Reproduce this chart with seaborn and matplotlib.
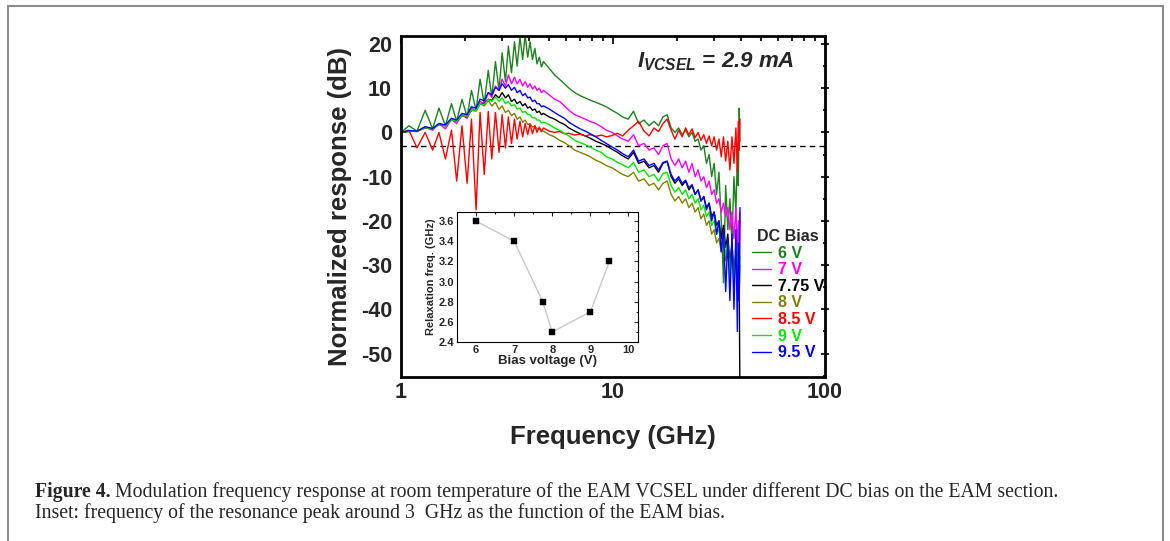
import numpy as np
import pandas as pd
import matplotlib
matplotlib.use("Agg")
import matplotlib.pyplot as plt
import matplotlib.ticker as mticker
from matplotlib.patches import Rectangle
import seaborn as sns

# frequency grid (GHz): ripple region, mid band, noisy top end
freq_ghz = [1.00, 1.09, 1.19, 1.30, 1.41, 1.51, 1.62, 1.73, 1.83, 1.94, 2.05, 2.15,
            2.26, 2.36, 2.47, 2.58, 2.68, 2.79, 2.90, 3.00, 3.11, 3.21, 3.32, 3.43,
            3.53, 3.64, 3.75, 3.85, 3.96, 4.06, 4.17, 4.28, 4.38, 4.49, 4.60, 4.70,
            5.0, 5.3, 5.6, 5.9, 6.2, 6.6, 7.0, 7.4, 7.8, 8.3, 8.8, 9.3, 9.9, 10.5,
            11.1, 11.8, 12.5, 13.2, 14.0, 14.8,
            15.6, 16.4, 17.2, 18.0, 18.8, 19.6, 20.4, 21.2, 22.0, 22.8, 23.6, 24.4,
            25.2, 26.0, 26.8, 27.6, 28.4, 29.2, 30.0, 30.8, 31.6, 32.4, 33.2, 34.0,
            34.8, 35.6, 36.4, 37.2, 38.0, 38.6, 39.0, 39.4, 39.7]

resp_6v = [0, 1.5, 0.3, 5, 0.8, 5.5, 1.5, 6.5, 2.5, 7.5, 3.5, 9.5, 5, 12, 6.5, 14, 8, 16,
           9.5, 18, 11.5, 19.5, 13.5, 20.5, 15, 21.5, 16.5, 22, 17, 20.5, 16.5, 19, 15.5, 17, 14.8, 16,
           14.5, 13.0, 12.0, 11.0, 10.0, 9.0, 8.3, 7.8, 7.3, 6.8, 6.3, 5.8, 5.0, 4.3, 3.5, 3.0, 4.8, 2.0, 2.8, 1.5,
           2.5, 1.5, 3.5, 4.0, 1.0, 0.0, 1.0, -0.5, 0.5, -1.0, 0.0, -2.0, -1.5, -4.0, -3.0, -7.0, -5.0,
           -10.0, -7.0, -14.0, -9.0, -20.0, -34.0, -12.0, -22.0, -15.0, -25.0, -10.0, -18.0, -5.0, -12.0, 5.5, -2.0]
resp_7v = [0, 0.3, 0.2, 1.2, 0.5, 2.0, 0.8, 3.0, 2.0, 4.0, 3.2, 5.5, 5.0, 7.0, 6.5, 9.0, 8.0, 10.5,
           9.5, 12.0, 10.5, 13.0, 11.0, 12.5, 11.0, 12.0, 10.5, 11.5, 10.2, 11.0, 9.8, 10.5, 9.5, 10.0, 9.0, 9.5,
           8.5, 7.5, 7.0, 6.0, 5.0, 4.0, 3.5, 3.0, 2.5, 2.0, 1.3, 0.5, 0.0, -0.8, -1.5, -2.0, -0.5, -3.0, -2.5, -4.0,
           -3.5, -5.0, -3.0, -2.5, -6.0, -7.5, -6.0, -8.0, -6.5, -9.0, -7.0, -10.0, -8.5, -11.0, -10.0, -12.5,
           -11.0, -14.0, -13.0, -16.0, -15.0, -18.0, -16.0, -19.0, -17.0, -22.0, -18.0, -24.0, -17.0, -28.0,
           -20.0, -36.0, -18.0]
resp_775v = [0, 0.2, 0.3, 1.0, 0.8, 1.8, 1.5, 2.8, 2.5, 3.8, 3.5, 5.0, 5.0, 6.5, 6.5, 7.5, 7.2, 8.5,
             7.8, 9.0, 7.8, 8.5, 7.0, 7.5, 6.5, 7.0, 6.0, 6.5, 5.5, 5.8, 5.0, 5.3, 4.5, 4.8, 4.0, 4.3,
             3.5, 3.0, 2.3, 1.8, 1.0, 0.3, -0.3, -0.8, -1.3, -2.0, -2.5, -3.0, -3.8, -4.5, -5.3, -6.0, -4.5, -7.0, -6.5, -8.0,
             -7.5, -9.0, -7.0, -6.5, -10.0, -11.5, -10.5, -12.0, -11.0, -13.0, -12.0, -14.0, -13.0, -15.5, -14.5,
             -17.0, -16.0, -19.0, -18.0, -21.0, -20.0, -24.0, -21.0, -26.0, -23.0, -30.0, -25.0, -32.0, -27.0,
             -33.0, -28.0, -35.0, -60.0]
resp_8v = [0, 0.3, 0.2, 1.0, 0.8, 1.8, 1.5, 2.8, 2.5, 3.8, 3.5, 5.0, 4.8, 6.5, 6.0, 7.2, 6.0, 6.8,
           5.2, 6.0, 4.5, 5.0, 3.8, 4.3, 3.0, 3.5, 2.3, 2.8, 1.8, 2.0, 1.2, 1.5, 0.8, 0.8, 0.2, 0.3,
           -0.5, -1.0, -1.8, -2.3, -3.0, -4.0, -4.5, -5.0, -5.5, -6.3, -6.8, -7.5, -8.0, -8.8, -9.5, -10.0, -9.0, -11.0, -10.5, -12.0,
           -11.5, -13.0, -11.5, -11.0, -14.0, -15.5, -14.5, -16.0, -15.0, -17.0, -16.0, -18.0, -17.0, -19.5, -18.5,
           -21.0, -20.0, -23.0, -22.0, -25.0, -24.0, -27.0, -25.0, -29.0, -26.0, -31.0, -27.0, -33.0, -28.0,
           -34.0, -29.0, -35.0, -30.0]
resp_85v = [0, 0.5, -3.5, 0, -4, 0, -6, 0.5, -11, 1.5, -11.5, 3, -17.5, 4.5, -9.5, 4.7, -6, 4.5,
            -4.5, 4, -3.5, 3.5, -2.5, 3, -1.5, 2.5, -1, 2, -0.5, 1.8, -0.3, 1.5, 0, 1.2, 0.2, 1.0,
            0.3, 0.0, 0.2, -0.3, -0.2, -0.6, -0.4, -0.8, -0.5, -0.9, -0.6, -1.0, -0.7, -0.2, -0.8, 0.5, 1.5, 2.5, 0.3, -0.8,
            1.0, 0.2, 2.0, 3.0, 0.5, -1.5, 0.5, -1.0, 1.0, -0.5, 0.8, -1.2, 0.0, -1.8, -0.5, -2.5, -0.8,
            -3.0, -1.0, -4.0, -1.5, -5.5, -1.0, -6.5, -2.0, -8.5, -1.0, -7.0, 1.0, -9.0, 2.5, -4.0, 3.0]
resp_9v = [0, 0.3, 0.3, 1.2, 0.8, 2.0, 1.5, 3.0, 2.5, 4.0, 3.8, 5.2, 5.0, 6.5, 6.3, 7.5, 7.0, 8.0,
           7.0, 7.8, 6.5, 7.0, 6.0, 6.3, 5.3, 5.5, 4.5, 4.8, 4.0, 4.0, 3.3, 3.3, 2.8, 2.8, 2.2, 2.3,
           1.8, 1.0, 0.5, -0.2, -0.8, -1.8, -2.3, -2.8, -3.3, -4.0, -4.5, -5.5, -6.0, -6.8, -7.3, -8.0, -6.8, -9.0, -8.5, -10.0,
           -9.5, -11.0, -9.3, -9.0, -12.0, -13.5, -12.5, -14.0, -13.0, -15.0, -14.0, -16.0, -15.0, -17.5, -16.5,
           -19.0, -18.0, -21.0, -20.0, -23.0, -22.0, -26.0, -23.0, -28.0, -25.0, -33.0, -26.0, -35.0, -27.0,
           -30.0, -26.0, -36.0, -28.0]
resp_95v = [0, 0.4, 0.3, 1.3, 0.9, 2.0, 1.7, 3.2, 2.8, 4.3, 4.0, 5.8, 5.5, 7.5, 7.2, 9.0, 8.5, 10.2,
            9.5, 11.0, 10.0, 10.8, 9.5, 10.2, 9.0, 9.5, 8.3, 8.8, 7.8, 8.0, 7.0, 7.3, 6.5, 6.5, 5.8, 6.0,
            5.3, 4.5, 3.8, 3.2, 2.3, 1.5, 0.8, 0.3, -0.3, -1.0, -1.8, -2.5, -3.3, -4.0, -4.8, -5.5, -4.0, -6.5, -6.0, -7.5,
            -7.0, -8.5, -6.8, -6.5, -9.5, -11.0, -10.0, -11.5, -10.8, -12.5, -11.8, -14.0, -13.0, -15.5, -14.5,
            -17.5, -16.0, -20.0, -18.0, -23.0, -20.0, -27.0, -22.0, -36.0, -24.0, -38.0, -23.0, -40.0, -22.0,
            -45.0, -25.0, -38.0, -17.0]

bias_labels = ["6 V", "7 V", "7.75 V", "8 V", "8.5 V", "9 V", "9.5 V"]
bias_colors = ["#1f7f1f", "#ff00ff", "#000000", "#808000", "#ff0000", "#00e800", "#0000ff"]
all_resp = [resp_6v, resp_7v, resp_775v, resp_8v, resp_85v, resp_9v, resp_95v]

# inset: relaxation frequency vs EAM bias
inset_bias = [6, 7, 7.75, 8, 9, 9.5]
inset_relax = [3.6, 3.4, 2.8, 2.5, 2.7, 3.2]

df = pd.concat([pd.DataFrame({"freq": freq_ghz, "resp": r, "bias": lab})
                for r, lab in zip(all_resp, bias_labels)], ignore_index=True)

sns.set_style("white")
plt.rcParams["font.family"] = ["Liberation Sans", "DejaVu Sans"]
plt.rcParams["axes.unicode_minus"] = False
plt.rcParams["mathtext.fontset"] = "custom"
plt.rcParams["mathtext.it"] = "Liberation Sans:italic:bold"
plt.rcParams["mathtext.rm"] = "Liberation Sans:bold"

W, H = 1170, 541
fig = plt.figure(figsize=(W / 100, H / 100), dpi=100)
ax = fig.add_axes([401 / W, 1 - 377 / H, 424 / W, 341 / H])

sns.lineplot(data=df, x="freq", y="resp", hue="bias", hue_order=bias_labels,
             palette=dict(zip(bias_labels, bias_colors)), estimator=None, sort=False,
             lw=1.0, ax=ax)
ax.axhline(-3, ls=(0, (4, 3)), color="black", lw=1.0, zorder=1)

ax.set_xscale("log")
ax.set_xlim(1, 100)
ax.set_ylim(-55.3, 21.8)
ax.xaxis.set_major_locator(mticker.FixedLocator([1, 10, 100]))
ax.xaxis.set_major_formatter(mticker.FixedFormatter(["1", "10", "100"]))
ax.xaxis.set_minor_locator(mticker.LogLocator(base=10, subs=np.arange(2, 10)))
ax.xaxis.set_minor_formatter(mticker.NullFormatter())
ax.yaxis.set_major_locator(mticker.MultipleLocator(10))
ax.yaxis.set_minor_locator(mticker.MultipleLocator(5))
ax.tick_params(which="both", direction="in", top=True, right=True, width=1.5)
ax.tick_params(axis="y", which="both", direction="inout")
ax.tick_params(which="major", length=6, labelsize=15.5)
ax.tick_params(which="minor", length=3.5)
for lab in ax.get_xticklabels() + ax.get_yticklabels():
    lab.set_fontweight("bold")
for sp in ax.spines.values():
    sp.set_linewidth(2)
    sp.set_color("black")
ax.set_xlabel("Frequency (GHz)", fontsize=18.5, fontweight="bold", labelpad=16)
ax.set_ylabel("Normalized response (dB)", fontsize=18.5, fontweight="bold", labelpad=6)

handles, labels = ax.get_legend_handles_labels()
leg = ax.legend(handles, labels, title="DC Bias", frameon=False, loc="upper left",
                bbox_to_anchor=(744 / W, 1 - 221 / H), bbox_transform=fig.transFigure,
                handlelength=1.2, handletextpad=0.4, labelspacing=0.1, borderpad=0,
                prop={"weight": "bold", "size": 11.5})
leg.get_title().set_fontweight("bold")
leg.get_title().set_fontsize(11.5)
for txt, col in zip(leg.get_texts(), bias_colors):
    txt.set_color(col)
for h in leg.legend_handles:
    h.set_linewidth(1.0)

fig.text(637 / W, 1 - 62 / H, r"$I_{VCSEL}$ = 2.9 mA", fontsize=16, fontweight="bold",
         fontstyle="italic", ha="left", va="center")

# inset
ins = fig.add_axes([457 / W, 1 - 342 / H, 181 / W, 130 / H])
sns.lineplot(x=inset_bias, y=inset_relax, color="#c8c8c8", lw=1.0, ax=ins)
sns.scatterplot(x=inset_bias, y=inset_relax, marker="s", color="black", s=14,
                edgecolor="black", ax=ins, zorder=3)
ins.set_xlim(5.5, 10.25)
ins.set_ylim(2.4, 3.69)
ins.xaxis.set_major_locator(mticker.MultipleLocator(1))
ins.xaxis.set_minor_locator(mticker.MultipleLocator(0.5))
ins.yaxis.set_major_locator(mticker.MultipleLocator(0.2))
ins.yaxis.set_minor_locator(mticker.MultipleLocator(0.1))
ins.tick_params(which="both", direction="in", top=True, right=True, width=0.8, labelsize=8, pad=2)
ins.tick_params(which="major", length=3)
ins.tick_params(which="minor", length=1.5)
for lab in ins.get_xticklabels() + ins.get_yticklabels():
    lab.set_fontweight("bold")
for sp in ins.spines.values():
    sp.set_linewidth(0.8)
    sp.set_color("black")
ins.set_xlabel("Bias voltage (V)", fontsize=9.5, fontweight="bold", labelpad=0)
ins.set_ylabel("Relaxation freq. (GHz)", fontsize=8, fontweight="bold", labelpad=2)

# caption
fig.canvas.draw()
rend = fig.canvas.get_renderer()
cap_size = 14.2
t1 = fig.text(35 / W, 1 - 492 / H, "Figure 4.", family="Liberation Serif", weight="bold",
              size=cap_size, va="center")
bb = t1.get_window_extent(rend)
fig.text((bb.x1 + 4) / W, 1 - 492 / H,
         "Modulation frequency response at room temperature of the EAM VCSEL under different DC bias on the EAM section.",
         family="Liberation Serif", size=cap_size, va="center")
fig.text(35 / W, 1 - 513 / H,
         "Inset: frequency of the resonance peak around 3  GHz as the function of the EAM bias.",
         family="Liberation Serif", size=cap_size, va="center")

# page frame
fig.patches.append(Rectangle((8 / W, -0.05), 1155 / W, 1.05 - 6 / H, transform=fig.transFigure,
                             fill=False, edgecolor="#8c8c8c", lw=1.5))

fig.savefig("out.png", dpi=100)
